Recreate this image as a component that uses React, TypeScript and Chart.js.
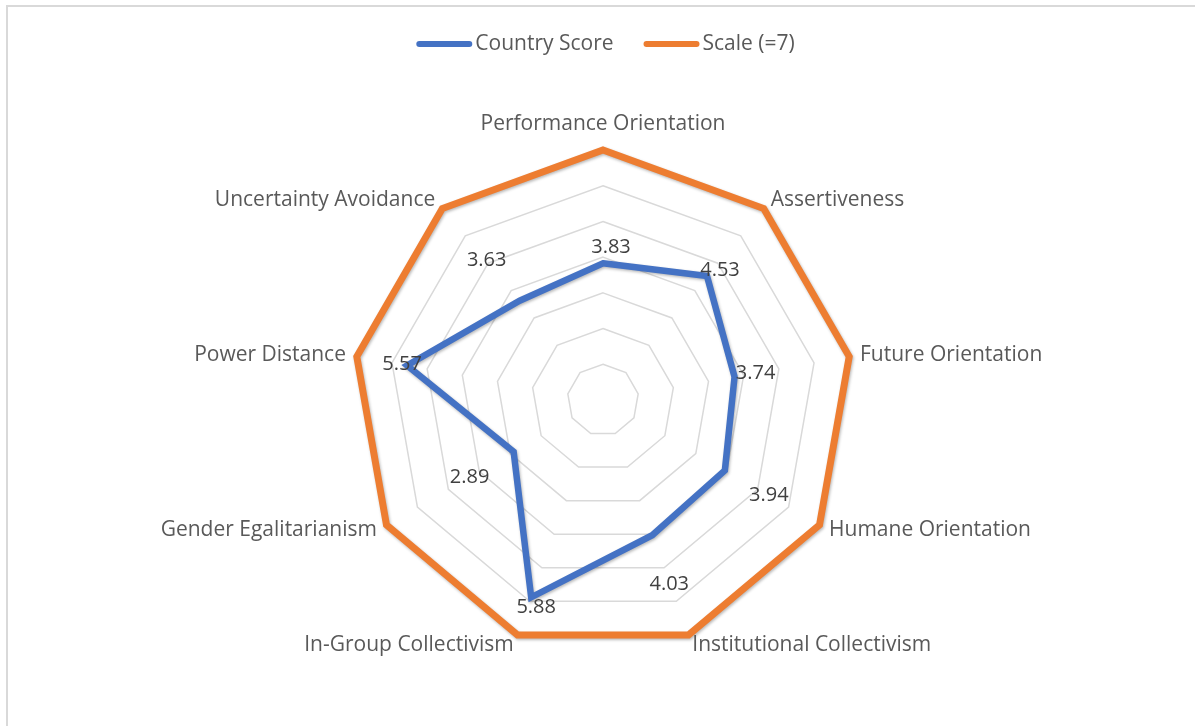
import React, { useEffect, useRef } from "react";
import { Chart, registerables } from "chart.js";

Chart.register(...registerables);

const categories = [
  "Performance Orientation",
  "Assertiveness",
  "Future Orientation",
  "Humane Orientation",
  "Institutional Collectivism",
  "In-Group Collectivism",
  "Gender Egalitarianism",
  "Power Distance",
  "Uncertainty Avoidance",
];
const countryScore = [3.83, 4.53, 3.74, 3.94, 4.03, 5.88, 2.89, 5.57, 3.63];
const scaleMax = [7, 7, 7, 7, 7, 7, 7, 7, 7];
const seriesNames = ["Country Score", "Scale (=7)"];
const seriesColors = ["#4472C4", "#ED7D31"];
const axisMin = 0;
const axisMax = 7;
const axisStep = 1;

// styling: where each value label sits relative to its point (px)
const labelOffsets = [
  [8, -16],
  [13, -6],
  [21, -4],
  [44, 25],
  [17, 49],
  [5, 10],
  [-44, 26],
  [-5, -1],
  [-33, -40],
];

const FONT_FAMILY = '"Open Sans", "Liberation Sans", sans-serif';
const LABEL_SIZE = 21;
const VALUE_SIZE = 20;

const shadowPlugin = {
  id: "lineShadow",
  beforeDatasetDraw(chart: any) {
    const ctx = chart.ctx;
    ctx.save();
    ctx.shadowColor = "rgba(0,0,0,0.28)";
    ctx.shadowBlur = 3;
    ctx.shadowOffsetX = 1;
    ctx.shadowOffsetY = 1.5;
  },
  afterDatasetDraw(chart: any) {
    chart.ctx.restore();
  },
};

const labelsPlugin = {
  id: "customLabels",
  afterDraw(chart: any) {
    const ctx = chart.ctx;
    const scale = chart.scales.r;
    const R = scale.drawingArea;
    ctx.save();
    ctx.font = `${LABEL_SIZE}px ${FONT_FAMILY}`;

    // axis (point) labels
    ctx.fillStyle = "#595959";
    categories.forEach((label, i) => {
      const angle = ((scale.getIndexAngle(i) * 180) / Math.PI) % 360;
      if (angle < 5 || angle > 355) {
        const p = scale.getPointPosition(i, R + 20);
        ctx.textAlign = "center";
        ctx.textBaseline = "alphabetic";
        ctx.fillText(label, p.x, p.y);
      } else {
        const p = scale.getPointPosition(i, R + 11);
        ctx.textAlign = angle < 180 ? "left" : "right";
        ctx.textBaseline = "middle";
        ctx.fillText(label, p.x, p.y);
      }
    });

    // value labels
    ctx.font = `${VALUE_SIZE}px ${FONT_FAMILY}`;
    ctx.fillStyle = "#404040";
    ctx.textAlign = "center";
    ctx.textBaseline = "middle";
    const meta = chart.getDatasetMeta(0);
    meta.data.forEach((pt: any, i: number) => {
      const [dx, dy] = labelOffsets[i];
      ctx.fillText(countryScore[i].toFixed(2), pt.x + dx, pt.y + dy);
    });

    // legend
    ctx.font = `${LABEL_SIZE}px ${FONT_FAMILY}`;
    ctx.fillStyle = "#595959";
    ctx.textAlign = "left";
    ctx.textBaseline = "middle";
    const lineLen = 56;
    const gap = 3;
    const itemGap = 30;
    const widths = seriesNames.map((n) => ctx.measureText(n).width);
    const total =
      widths.reduce((a, w) => a + lineLen + gap + w, 0) + itemGap * (seriesNames.length - 1);
    let x = chart.width / 2 + 8 - total / 2;
    const y = 44;
    seriesNames.forEach((n, i) => {
      ctx.strokeStyle = seriesColors[i];
      ctx.lineWidth = 6;
      ctx.lineCap = "round";
      ctx.beginPath();
      ctx.moveTo(x + 3, y);
      ctx.lineTo(x + lineLen - 3, y);
      ctx.stroke();
      ctx.fillText(n, x + lineLen + gap, y);
      x += lineLen + gap + widths[i] + itemGap;
    });
    ctx.restore();
  },
};

export default function App() {
  const canvasRef = useRef<HTMLCanvasElement | null>(null);

  useEffect(() => {
    if (!canvasRef.current) return;
    const chart = new Chart(canvasRef.current, {
      type: "radar",
      data: {
        labels: categories,
        datasets: [
          {
            label: seriesNames[0],
            data: countryScore,
            borderColor: seriesColors[0],
            backgroundColor: "transparent",
            borderWidth: 6.5,
            borderJoinStyle: "miter",
            fill: false,
            pointRadius: 0,
            pointHoverRadius: 0,
          },
          {
            label: seriesNames[1],
            data: scaleMax,
            borderColor: seriesColors[1],
            backgroundColor: "transparent",
            borderWidth: 7,
            borderJoinStyle: "miter",
            fill: false,
            pointRadius: 0,
            pointHoverRadius: 0,
          },
        ],
      },
      options: {
        responsive: false,
        animation: false,
        events: [],
        layout: { padding: { top: 150, bottom: 76, left: 353, right: 342 } },
        plugins: {
          legend: { display: false },
          title: { display: false },
          tooltip: { enabled: false },
        },
        scales: {
          r: {
            min: axisMin,
            max: axisMax,
            ticks: { stepSize: axisStep, display: false },
            grid: { color: "#d9d9d9", lineWidth: 1.5, circular: false },
            angleLines: { display: false },
            pointLabels: { display: false },
          },
        },
      },
      plugins: [shadowPlugin, labelsPlugin],
    });
    return () => chart.destroy();
  }, []);

  return (
    <div
      style={{
        position: "fixed",
        left: 0,
        top: 0,
        width: 1195,
        height: 726,
        overflow: "hidden",
        background: "#ffffff",
      }}
    >
      <div
        style={{
          position: "absolute",
          left: 6,
          top: 5,
          width: 1300,
          height: 900,
          border: "2px solid #d9d9d9",
        }}
      />
      <canvas
        ref={canvasRef}
        width={1195}
        height={726}
        style={{ position: "absolute", left: 0, top: 0, display: "block" }}
      />
    </div>
  );
}
